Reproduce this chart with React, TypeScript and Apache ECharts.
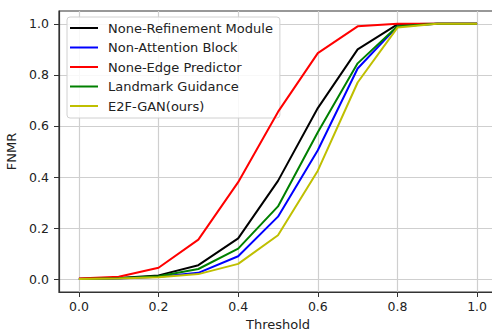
import React, { useEffect, useRef } from "react";
import * as echarts from "echarts";

const thresholds = [0.0, 0.1, 0.2, 0.3, 0.4, 0.5, 0.6, 0.7, 0.8, 0.9, 1.0];
const noneRefinement = [0.002, 0.005, 0.015, 0.055, 0.16, 0.385, 0.67, 0.9, 0.998, 1.0, 1.0];
const nonAttention = [0.001, 0.003, 0.01, 0.025, 0.09, 0.245, 0.505, 0.825, 0.99, 1.0, 1.0];
const noneEdge = [0.003, 0.01, 0.045, 0.155, 0.38, 0.655, 0.885, 0.99, 1.0, 1.0, 1.0];
const landmark = [0.001, 0.004, 0.012, 0.04, 0.12, 0.285, 0.575, 0.845, 0.99, 1.0, 1.0];
const e2fGan = [0.001, 0.003, 0.008, 0.02, 0.06, 0.172, 0.425, 0.77, 0.985, 1.0, 1.0];

const seriesNames = [
  "None-Refinement Module",
  "Non-Attention Block",
  "None-Edge Predictor",
  "Landmark Guidance",
  "E2F-GAN(ours)",
];
const seriesValues = [noneRefinement, nonAttention, noneEdge, landmark, e2fGan];
const seriesColors = ["#000000", "#0000ff", "#ff0000", "#008000", "#bfbf00"];

const xTicks = [0.0, 0.2, 0.4, 0.6, 0.8, 1.0];
const yTicks = [0.0, 0.2, 0.4, 0.6, 0.8, 1.0];

const FONT = "DejaVu Sans";

export default function App() {
  const ref = useRef<HTMLDivElement>(null);
  useEffect(() => {
    if (!ref.current) return;
    const chart = echarts.init(ref.current, null, { renderer: "svg" });
    const axisCommon = (ticks: number[], margin: number) => ({
      type: "value" as const,
      min: -0.05,
      max: 1.05,
      axisLine: { show: true, onZero: false, lineStyle: { color: "#333", width: 1.2 } },
      axisTick: {
        show: true,
        customValues: ticks,
        length: 5,
        lineStyle: { color: "#333", width: 1 },
      },
      axisLabel: {
        customValues: ticks,
        formatter: (v: number) => v.toFixed(1),
        fontFamily: FONT,
        fontSize: 12.5,
        color: "#222",
        margin,
      },
      splitLine: {
        show: true,
        customValues: ticks,
        lineStyle: { color: "#cfcfcf", width: 1.2 },
      },
    });
    chart.setOption({
      animation: false,
      backgroundColor: "#ffffff",
      grid: {
        left: 59,
        top: 11,
        width: 438,
        height: 281,
        show: true,
        borderColor: "#333",
        borderWidth: 1.2,
        backgroundColor: "transparent",
        containLabel: false,
        outerBoundsMode: "none",
      },
      xAxis: {
        ...axisCommon(xTicks, 8),
        name: "Threshold",
        nameLocation: "middle",
        nameGap: 25,
        nameTextStyle: { fontFamily: FONT, fontSize: 13, color: "#222" },
      },
      yAxis: {
        ...axisCommon(yTicks, 10),
        name: "FNMR",
        nameLocation: "middle",
        nameRotate: 90,
        nameGap: 34,
        nameTextStyle: { fontFamily: FONT, fontSize: 13, color: "#222" },
      },
      legend: {
        orient: "vertical",
        left: 67,
        top: 17,
        icon: "rect",
        itemWidth: 28,
        itemHeight: 2,
        itemGap: 5.5,
        padding: [4, 7, 5, 3],
        backgroundColor: "rgba(255,255,255,0.85)",
        borderColor: "#d0d0d0",
        borderWidth: 1,
        borderRadius: 3,
        textStyle: {
          fontFamily: FONT,
          fontSize: 13,
          color: "#222",
          lineHeight: 14,
          padding: [0, 0, 0, 5],
        },
        data: seriesNames,
      },
      series: seriesNames.map((name, i) => ({
        name,
        type: "line",
        symbol: "none",
        data: thresholds.map((t, j) => [t, seriesValues[i][j]]),
        lineStyle: { color: seriesColors[i], width: 2 },
        itemStyle: { color: seriesColors[i] },
        z: 2 + i,
      })),
    });
    return () => chart.dispose();
  }, []);
  return (
    <div
      ref={ref}
      style={{ position: "fixed", left: 0, top: 0, width: 492, height: 330 }}
    />
  );
}
